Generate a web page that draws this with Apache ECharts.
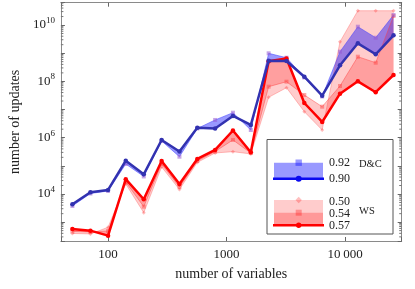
<!DOCTYPE html>
<html><head><meta charset="utf-8">
<script src="https://cdn.jsdelivr.net/npm/echarts@6/dist/echarts.min.js"></script>
<style>html,body{margin:0;padding:0;background:#fff}#c{width:415px;height:289px}</style>
</head><body><div id="c"></div>
<script>
// number of variables (x)
const nVars = [50,71,100,141,200,283,400,566,800,1131,1600,2263,3200,4525,6400,9051,12800,18102,25600];
// D&C series
const dc090 = [4300,11500,13900,152000,50100,828000,323000,2.26e6,2.10e6,5.89e6,2.82e6,5.41e8,5.27e8,1.46e8,3.09e7,3.71e8,2.24e9,9.12e8,4.31e9];
const dc092 = [3760,10400,12800,116000,41900,762000,211000,2.12e6,4.25e6,7.71e6,1.87e6,9.89e8,6.90e8,1.37e8,2.90e7,1.13e9,8.71e9,3.54e9,2.26e10];
// WS series
const ws057 = [573,499,331,33600,6500,149000,22700,175000,366000,1.80e6,303000,5.14e8,6.47e8,1.70e7,3.61e6,3.64e7,1.00e8,4.11e7,1.68e8];
const ws054 = [468,449,486,26700,3550,116000,17700,149000,323000,828000,286000,6.46e7,9.70e7,3.27e7,1.26e7,6.84e7,7.50e8,4.59e8,2.1e10];
const ws050 = [397,381,659,22700,2170,91000,14500,132000,286000,318000,264000,2.71e7,5.94e7,8.36e6,1.87e6,2.55e9,3.22e10,3.22e10,3.22e10];
// tick helpers
const yDecades = [2,3,4,5,6,7,8,9,10];
const yMinorMult = [2,3,4,5,6,7,8,9];
const xTickLabels = {100:'100', 1000:'1000', 10000:'10\u2009000'};

const xMin = 40, xMax = 30000, yMin = 214, yMax = 6.2e10;
const serif = 'Liberation Serif';

function pairs(arr){ return nVars.map((x,i)=>[x, arr[i]]); }
function band(a, b, color){
  return { type:'custom', silent:true, z:1, data:[[nVars[0], a[0]]], encode:{x:0,y:1},
    renderItem:(p, api)=>{
      const pts=[];
      for(let i=0;i<nVars.length;i++) pts.push(api.coord([nVars[i], a[i]]));
      for(let i=nVars.length-1;i>=0;i--) pts.push(api.coord([nVars[i], b[i]]));
      return {type:'polygon', shape:{points:pts}, style:{fill:color}};
    }};
}
function thin(arr, color, sym, mcolor){
  return {type:'line', data:pairs(arr), z:2, symbol:sym, symbolSize:4, showSymbol:true,
    lineStyle:{color:color, width:1}, itemStyle:{color:mcolor}, animation:false, silent:true};
}
function thick(arr, color, z){
  return {type:'line', data:pairs(arr), z:z, symbol:'circle', symbolSize:4.5, showSymbol:true,
    lineStyle:{color:color, width:2.5}, itemStyle:{color:color}, animation:false, silent:true};
}
const minorVals = [];
yDecades.forEach(d=>yMinorMult.forEach(m=>{ const v=m*Math.pow(10,d); if(v>yMin && v<yMax) minorVals.push([xMin, v]); }));

function fmtX(v){ const l=Math.log10(v), e=Math.round(l); if(Math.abs(l-e)>1e-6) return ''; return xTickLabels[Math.pow(10,e)] || ''; }
function fmtY(v){ const l=Math.log10(v), e=Math.round(l); if(Math.abs(l-e)>1e-6 || e%2!==0) return ''; return '{b|10}{s|'+e+'}'; }

const axisLineStyle = {color:'#8a8a8a', width:1};
const tickStyle = {color:'#666', width:1};
function xAx(pos, show){
  return {type:'log', logBase:10, min:xMin, max:xMax, position:pos,
    axisLine:{show:true, onZero:false, lineStyle:axisLineStyle},
    axisTick:{show:true, inside:true, length:4, lineStyle:tickStyle},
    splitLine:{show:false}, minorTick:{show:false},
    axisLabel:{show:show, formatter:fmtX, fontFamily:serif, fontSize:13, color:'#222', margin:7},
    name: show ? 'number of variables' : '', nameLocation:'middle', nameGap:26,
    nameTextStyle:{fontFamily:serif, fontSize:14, color:'#222'}};
}
function yAx(pos, show){
  return {type:'log', logBase:10, min:yMin, max:yMax, position:pos,
    axisLine:{show:true, onZero:false, lineStyle:axisLineStyle},
    axisTick:{show:true, inside:true, length:4, lineStyle:tickStyle},
    splitLine:{show:false}, minorTick:{show:false},
    axisLabel:{show:show, formatter:fmtY, margin:6,
      rich:{b:{fontFamily:serif, fontSize:13, color:'#222'}, s:{fontFamily:serif, fontSize:9, color:'#222', padding:[0,0,9,0]}}},
    name: show ? 'number of updates' : '', nameLocation:'middle', nameGap:37,
    nameTextStyle:{fontFamily:serif, fontSize:14, color:'#222'}};
}

const lx = 274, lw = 49, mx = 298.7;
const legend = [
  {type:'rect', z:100, shape:{x:267, y:139.5, width:126, height:94.5}, style:{fill:'#fff', stroke:'#555', lineWidth:1}},
  {type:'rect', z:101, shape:{x:lx, y:162.7, width:lw, height:16}, style:{fill:'rgba(0,0,255,0.4)'}},
  {type:'rect', z:102, shape:{x:mx-3.2, y:159.5, width:6.4, height:6.4}, style:{fill:'rgba(0,0,255,0.4)'}},
  {type:'line', z:102, shape:{x1:lx-1, y1:178.7, x2:lx+lw+1, y2:178.7}, style:{stroke:'#0a0af0', lineWidth:2.5}},
  {type:'circle', z:103, shape:{cx:mx, cy:178.7, r:3}, style:{fill:'#0a0af0'}},
  {type:'rect', z:101, shape:{x:lx, y:200, width:lw, height:25.3}, style:{fill:'rgba(255,0,0,0.2)'}},
  {type:'rect', z:101, shape:{x:lx, y:212.7, width:lw, height:12.6}, style:{fill:'rgba(255,0,0,0.25)'}},
  {type:'polygon', z:102, shape:{points:[[mx,196.8],[mx+3.2,200],[mx,203.2],[mx-3.2,200]]}, style:{fill:'rgba(255,0,0,0.25)'}},
  {type:'rect', z:102, shape:{x:mx-3, y:209.7, width:6, height:6}, style:{fill:'rgba(255,0,0,0.3)'}},
  {type:'line', z:102, shape:{x1:lx-1, y1:225.3, x2:lx+lw+1, y2:225.3}, style:{stroke:'#ff0000', lineWidth:2.5}},
  {type:'circle', z:103, shape:{cx:mx, cy:225.3, r:2.7}, style:{fill:'#ff0000'}},
  {type:'text', z:103, x:329, y:162.7, style:{text:'0.92', font:'12px "Liberation Serif"', fill:'#222', verticalAlign:'middle'}},
  {type:'text', z:103, x:329, y:179, style:{text:'0.90', font:'12px "Liberation Serif"', fill:'#222', verticalAlign:'middle'}},
  {type:'text', z:103, x:359, y:164, style:{text:'D&C', font:'10.5px "Liberation Serif"', fill:'#222', verticalAlign:'middle'}},
  {type:'text', z:103, x:329, y:202, style:{text:'0.50', font:'12px "Liberation Serif"', fill:'#222', verticalAlign:'middle'}},
  {type:'text', z:103, x:329, y:213.5, style:{text:'0.54', font:'12px "Liberation Serif"', fill:'#222', verticalAlign:'middle'}},
  {type:'text', z:103, x:329, y:225.5, style:{text:'0.57', font:'12px "Liberation Serif"', fill:'#222', verticalAlign:'middle'}},
  {type:'text', z:103, x:359, y:211, style:{text:'WS', font:'10.5px "Liberation Serif"', fill:'#222', verticalAlign:'middle'}}
];

const chart = echarts.init(document.getElementById('c'), null, {renderer:'canvas'});
chart.setOption({
  animation:false,
  backgroundColor:'#fff',
  grid:{left:58.5, right:13.3, top:2.7, bottom:48, containLabel:false},
  xAxis:[xAx('bottom', true), xAx('top', false)],
  yAxis:[yAx('left', true), yAx('right', false)],
  graphic: legend,
  series:[
    band(ws050, ws057, 'rgba(255,0,0,0.2)'),
    band(ws054, ws057, 'rgba(255,0,0,0.22)'),
    band(dc092, dc090, 'rgba(0,0,255,0.4)'),
    thin(ws050, 'rgba(255,80,80,0.35)', 'diamond', 'rgba(255,60,60,0.35)'),
    thin(ws054, 'rgba(255,60,60,0.45)', 'rect', 'rgba(255,60,60,0.45)'),
    thin(dc092, 'rgba(60,60,255,0.5)', 'rect', 'rgba(150,90,210,0.55)'),
    thick(ws057, '#ff0000', 3),
    thick(dc090, '#3232b0', 4),
    { type:'custom', silent:true, z:5, data:minorVals, encode:{x:0,y:1},
      renderItem:(p, api)=>{
        const v = api.value(1);
        const a = api.coord([xMin, v]), b = api.coord([xMax, v]);
        return {type:'group', children:[
          {type:'line', shape:{x1:a[0], y1:a[1], x2:a[0]+2.5, y2:a[1]}, style:{stroke:'#777', lineWidth:1}},
          {type:'line', shape:{x1:b[0]-2.5, y1:b[1], x2:b[0], y2:b[1]}, style:{stroke:'#777', lineWidth:1}}
        ]};
      }}
  ]
});
</script></body></html>
